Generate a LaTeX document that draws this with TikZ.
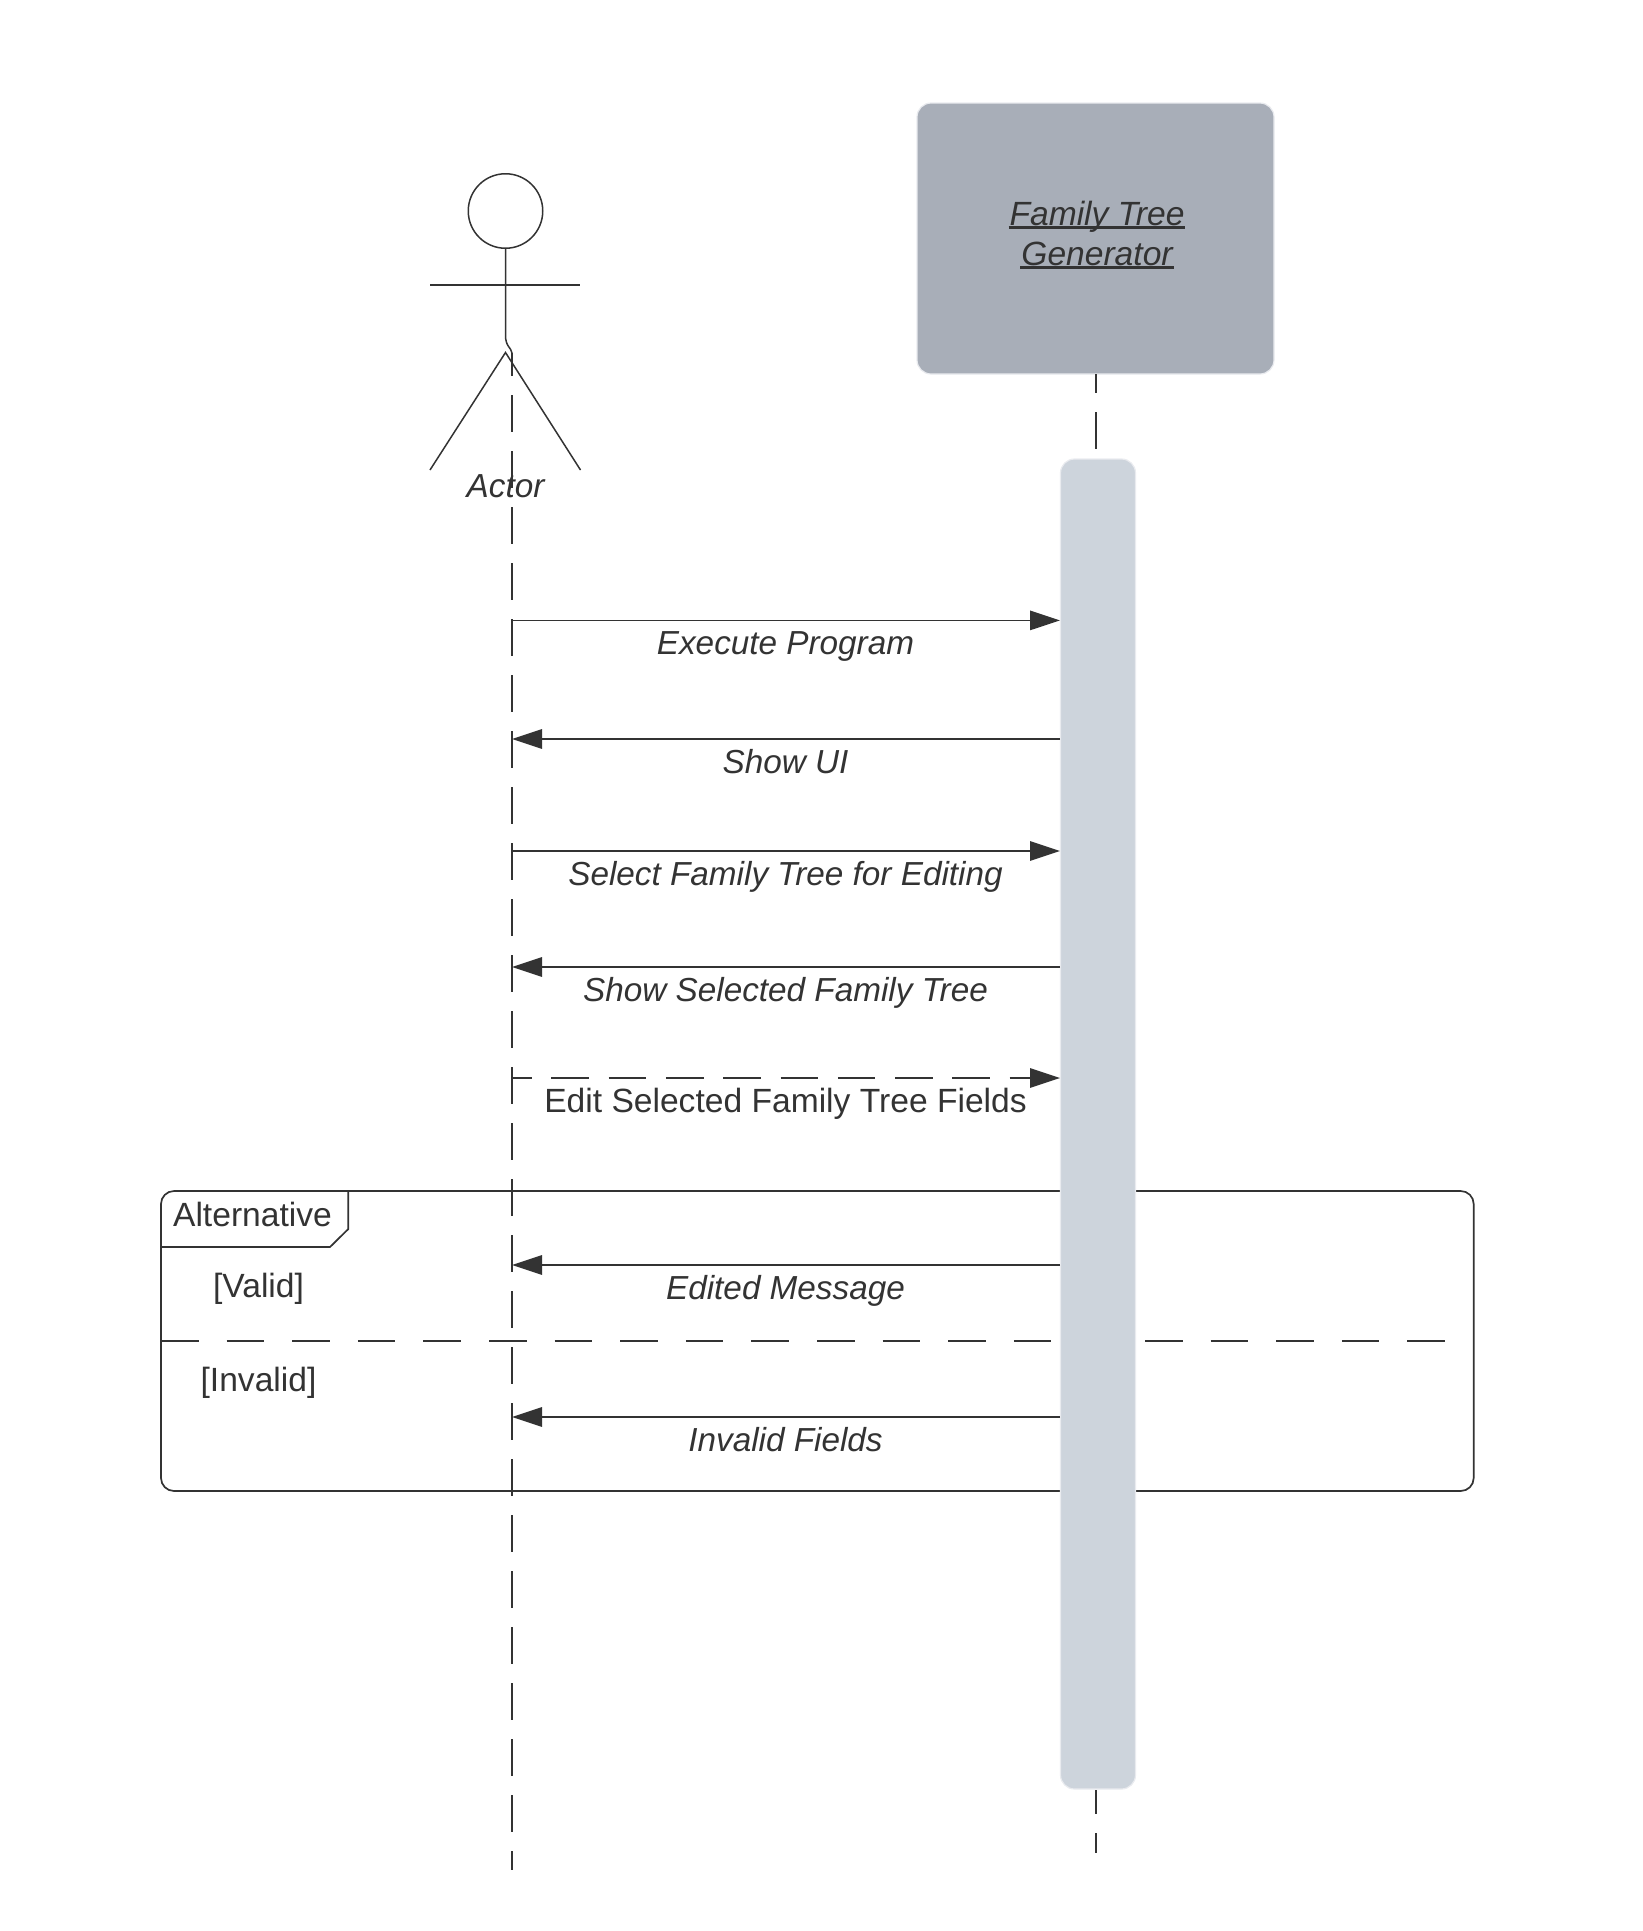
\documentclass[tikz,border=0pt]{standalone}
\usepackage{fontspec}
\setmainfont{Liberation Sans}
\usetikzlibrary{arrows.meta}
\definecolor{ink}{HTML}{333333}
\definecolor{boxfill}{HTML}{A8AEB8}
\definecolor{barfill}{HTML}{CDD4DC}
\definecolor{halo}{HTML}{E9EBEF}
\newcommand\myul[1]{\setbox0=\hbox{\hspace{1pt}#1\hspace{1pt}}\rlap{\rule[-4pt]{\wd0}{2.6pt}}\box0}
\tikzset{
  txt/.style={inner sep=0pt,outer sep=0pt,anchor=base,text=ink,font=\fontsize{33.6}{40.6}\selectfont},
  msgtxt/.style={txt,font=\fontsize{33.3}{40.6}\selectfont\itshape},
  lifeline/.style={draw=ink,line width=1.6pt,dash pattern=on 37.3pt off 18.7pt},
  msg/.style={draw=ink,line width=1.6pt,-{Triangle[length=30pt,width=19.5pt,fill=ink]}},
  figline/.style={draw=ink,line width=1.7pt},
  panel/.style={rounded corners=14pt,line width=1.2pt,draw=halo,inner sep=0pt,outer sep=0pt}
}
\begin{document}
\begin{tikzpicture}[x=1pt,y=-1pt]
\useasboundingbox (0,0) rectangle (1643,1931);
% frame
\coordinate (fa) at (161,1191);
\coordinate (fb) at (1473.7,1491);
\draw[figline,rounded corners=13pt] (fa) rectangle (fb);
\coordinate (ta) at (348.3,1191);
\coordinate (tb) at (348.3,1229);
\coordinate (tc) at (330,1247);
\coordinate (td) at (161,1247);
\draw[figline] (ta) -- (tb) -- (tc) -- (td);
\coordinate (da) at (161,1341);
\coordinate (db) at (1445,1341);
\draw[draw=ink,line width=1.7pt,dash pattern=on 37.5pt off 28.1pt] (da) -- (db);
% actor lifeline
\coordinate (la) at (512,353);
\coordinate (lb) at (512,1870);
\draw[lifeline,dash phase=14pt] (la) -- (lb);
% actor figure
\node[circle,draw=ink,line width=1.5pt,minimum size=74.5pt,inner sep=0pt,outer sep=0pt] (head) at (505.5,211) {};
\coordinate (arml) at (430,285);
\coordinate (armr) at (580,285);
\coordinate (bodyend) at (505.5,335);
\coordinate (legtop) at (505.5,352.5);
\coordinate (footl) at (430,470);
\coordinate (footr) at (580.5,470);
\draw[figline,line width=1.5pt] (arml) -- (armr);
\draw[figline,line width=1.5pt] (head.south) -- (bodyend) .. controls (505.5,347) and (511,347) .. (la);
\draw[figline,line width=1.5pt] (footl) -- (legtop) -- (footr);
\node[msgtxt] (actor) at (505.5,497.5) {Actor};
% generator box and activation
\node[panel,fill=boxfill,minimum width=357pt,minimum height=271pt] (gen) at (1095.5,238.5) {};
\node[panel,fill=barfill,minimum width=75pt,minimum height=1330pt] (bar) at (1098,1124) {};
\node[msgtxt,font=\fontsize{33.6}{40.6}\selectfont\itshape] (gena) at (1097,225) {\myul{Family Tree}};
\node[msgtxt,font=\fontsize{33.6}{40.6}\selectfont\itshape] (genb) at (1097,265) {\myul{Generator}};
\coordinate (l2a) at (1096,374);
\coordinate (l2b) at (1096,450);
\coordinate (l2c) at (1096,1790);
\coordinate (l2d) at (1096,1852.5);
\draw[lifeline,dash phase=18pt] (l2a) -- (l2b);
\draw[lifeline,dash phase=13pt] (l2c) -- (l2d);
% messages
\foreach \n/\y in {a/620.4,b/739,c/851,d/967,e/1078,f/1265,g/1417}{
  \coordinate (L\n) at (512,\y);
  \coordinate (R\n) at (1060,\y);
}
\draw[msg,line width=1.2pt] (La) -- (Ra);
\draw[msg] (Rb) -- (Lb);
\draw[msg] (Lc) -- (Rc);
\draw[msg] (Rd) -- (Ld);
\draw[msg,dash pattern=on 37.6pt off 19.7pt,dash phase=18pt] (Le) -- (Re);
\draw[msg] (Rf) -- (Lf);
\draw[msg] (Rg) -- (Lg);
% labels
\node[msgtxt] (ma) at (785.5,654.4) {Execute Program};
\node[msgtxt] (mb) at (785.5,773.6) {Show UI};
\node[msgtxt] (mc) at (785.5,885) {Select Family Tree for Editing};
\node[msgtxt] (md) at (785.5,1001) {Show Selected Family Tree};
\node[txt] (me) at (785.5,1112.5) {Edit Selected Family Tree Fields};
\node[msgtxt] (mf) at (785.5,1299) {Edited Message};
\node[msgtxt] (mg) at (785.5,1451) {Invalid Fields};
\node[txt] (alt) at (252.5,1226.2) {Alternative};
\node[txt] (valid) at (258.5,1297.5) {[Valid]};
\node[txt] (invalid) at (258.5,1391.2) {[Invalid]};
\end{tikzpicture}
\end{document}
